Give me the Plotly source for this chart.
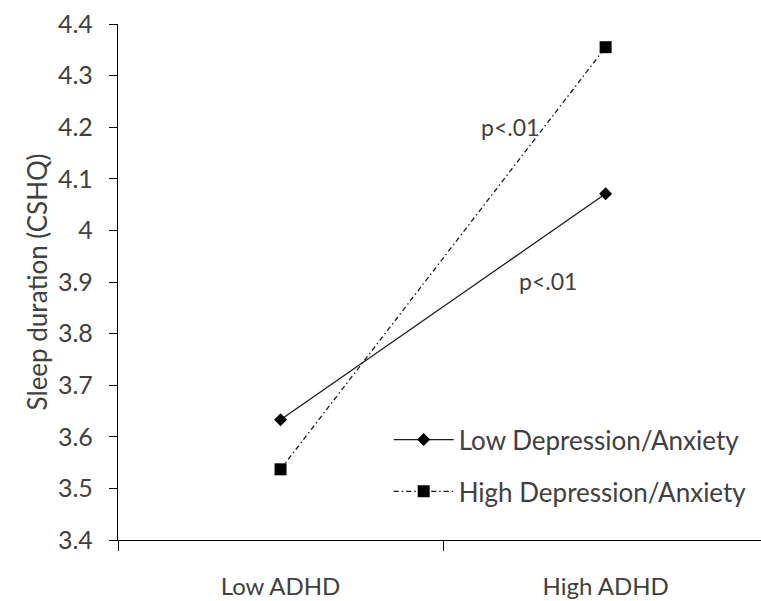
import plotly.graph_objects as go

categories = ["Low ADHD", "High ADHD"]
cat_pos = [0, 1]
low_dep = [3.633, 4.071]
high_dep = [3.537, 4.355]
y_ticks = [3.4, 3.5, 3.6, 3.7, 3.8, 3.9, 4.0, 4.1, 4.2, 4.3, 4.4]
y_ticktext = ["3.4", "3.5", "3.6", "3.7", "3.8", "3.9", "4", "4.1", "4.2", "4.3", "4.4"]
x_sep_ticks = [-0.5, 0.5]
annot_text = ["p<.01", "p<.01"]
annot_x = [0.706, 0.823]
annot_y = [4.20, 3.902]

FONT = "Lato"
TXT = "#404040"
fig = go.Figure()
fig.add_trace(go.Scatter(
    x=cat_pos, y=low_dep, mode="lines+markers", name="Low Depression/Anxiety",
    legendgroup="a",
    line=dict(color="#1a1a1a", width=1.3),
    marker=dict(symbol="diamond", size=10, color="black")))
fig.add_trace(go.Scatter(
    x=cat_pos, y=high_dep, mode="lines+markers", name="High Depression/Anxiety",
    legendgroup="b",
    line=dict(color="#1a1a1a", width=1.3, dash="5px,3px,1.5px,3px"),
    marker=dict(symbol="square", size=12, color="black")))
# separator-tick axis
fig.add_trace(go.Scatter(x=[0], y=[3.4], xaxis="x2", mode="markers",
                         marker=dict(opacity=0), showlegend=False, hoverinfo="skip"))

for t, x, y in zip(annot_text, annot_x, annot_y):
    fig.add_annotation(x=x, y=y, text=t, showarrow=False,
                       font=dict(family=FONT, size=23, color=TXT))

xr = [-0.5, 1.478]
fig.update_layout(
    width=761, height=601,
    margin=dict(l=118, r=0, t=24, b=61, autoexpand=False),
    paper_bgcolor="white", plot_bgcolor="white",
    font=dict(family=FONT, color=TXT),
    xaxis=dict(range=xr, tickvals=cat_pos, ticktext=categories, ticks="",
               showline=True, linecolor="black", linewidth=1.3,
               showgrid=False, zeroline=False, automargin=False,
               tickfont=dict(family=FONT, size=24, color=TXT), ticklabelstandoff=25),
    xaxis2=dict(range=xr, overlaying="x", tickvals=x_sep_ticks, ticks="outside",
                ticklen=10, tickcolor="black", tickwidth=1.3, showticklabels=False,
                showgrid=False, zeroline=False, showline=False, anchor="y",
                automargin=False),
    yaxis=dict(range=[3.4, 4.4], tickvals=y_ticks, ticktext=y_ticktext,
               ticks="outside", ticklen=8, tickcolor="black", tickwidth=1.3,
               showline=True, linecolor="black", linewidth=1.3,
               showgrid=False, zeroline=False, automargin=False,
               tickfont=dict(family=FONT, size=25, color=TXT), ticklabelstandoff=11,
               title=dict(text="Sleep duration (CSHQ)", standoff=2,
                          font=dict(family=FONT, size=26, color=TXT))),
    legend=dict(x=0.421, y=0.24, xanchor="left", yanchor="top",
                bgcolor="rgba(0,0,0,0)", traceorder="grouped", tracegroupgap=15,
                itemwidth=60, font=dict(family=FONT, size=26, color=TXT)),
)
fig.write_html("out.html", config={"displayModeBar": False},
               post_script="document.body.style.margin='0';document.body.style.overflow='hidden';")
